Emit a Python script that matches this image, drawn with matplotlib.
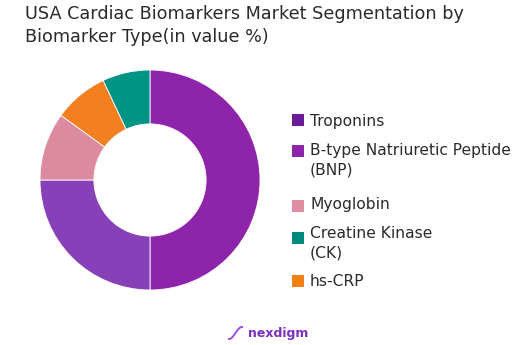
import matplotlib
matplotlib.use("Agg")
import matplotlib.pyplot as plt
from matplotlib.patches import Rectangle
from matplotlib.lines import Line2D
import numpy as np

plt.rcParams['font.family'] = ['DejaVu Sans']

# Data (clockwise from top)
segments = ["Troponins", "B-type Natriuretic Peptide (BNP)", "Myoglobin", "hs-CRP", "Creatine Kinase (CK)"]
values = [50, 25, 10, 8, 7]
slice_colors = ["#8E24AA", "#8740B8", "#DB8AA0", "#F47F20", "#009485"]

legend_labels = ["Troponins", "B-type Natriuretic Peptide\n(BNP)", "Myoglobin", "Creatine Kinase\n(CK)", "hs-CRP"]
legend_colors = ["#6A1B9A", "#8E24AA", "#E08CA3", "#00897B", "#F57F17"]

W, H = 514, 345
fig = plt.figure(figsize=(W / 100, H / 100), dpi=100)

def fx(x):
    return x / W

def fy(y):
    return 1 - y / H

# Donut
cx, cy, r = 150, 180, 110
ax = fig.add_axes([fx(cx - r), fy(cy + r), 2 * r / W, 2 * r / H])
ax.pie(values, colors=slice_colors, startangle=90, counterclock=False,
       radius=1.0, wedgeprops=dict(width=0.49, edgecolor="white", linewidth=0.6))
ax.set_xlim(-1, 1)
ax.set_ylim(-1, 1)
ax.set_aspect("equal")
ax.axis("off")

# Title
fig.text(fx(25), fy(19), "USA Cardiac Biomarkers Market Segmentation by",
         fontsize=12.7, color="#2b2b2b", ha="left", va="baseline")
fig.text(fx(25), fy(42.5), "Biomarker Type(in value %)",
         fontsize=12.7, color="#2b2b2b", ha="left", va="baseline")

# Legend
sq_y = [120, 151, 206, 238, 281]
txt_y = [121, 152, 204, 235, 282]
sq = 11.5
for lab, col, ys, yt in zip(legend_labels, legend_colors, sq_y, txt_y):
    fig.patches.append(Rectangle((fx(292), fy(ys + sq / 2)), sq / W, sq / H,
                                 transform=fig.transFigure, facecolor=col,
                                 edgecolor="none"))
    if "\n" in lab:
        fig.text(fx(310), fy(yt - 8.5), lab, fontsize=11.2, color="#2b2b2b",
                 ha="left", va="top", linespacing=1.35)
    else:
        fig.text(fx(310), fy(yt), lab, fontsize=11.2, color="#2b2b2b",
                 ha="left", va="center")

# Logo
t = np.linspace(0, 1, 40)
lx = 229 + 13 * t
ly = 333 + 6 * np.cos(np.pi * t)
fig.add_artist(Line2D(fx(lx), fy(ly), color="#9C4DE0", lw=1.4, transform=fig.transFigure))
fig.text(fx(248), fy(333), "nexdigm", fontsize=9, color="#7B2FBF",
         fontweight="bold", ha="left", va="center")

fig.savefig("out.png", dpi=100, facecolor="white")
